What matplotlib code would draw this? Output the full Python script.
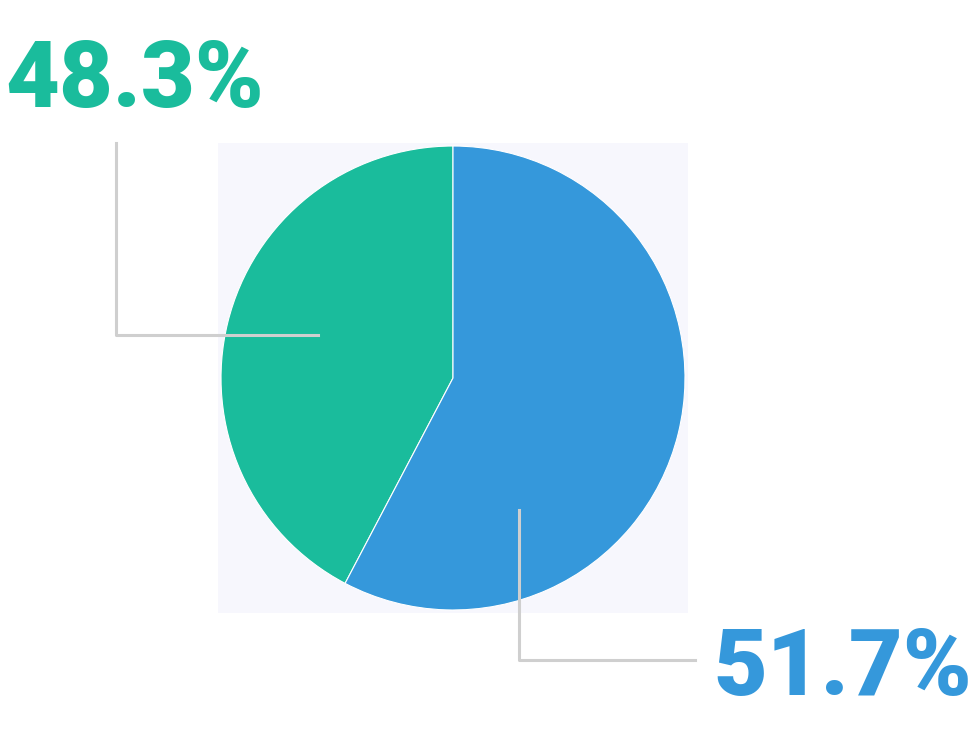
import matplotlib
matplotlib.use("Agg")
from matplotlib import pyplot as plt
from matplotlib import font_manager as fm

# slice sizes as drawn in the picture, labels as printed
segmentos = ["verde", "azul"]
tamanos = [42.3, 57.7]
etiquetas = ["48.3%", "51.7%"]
colores = ["#1ABC9C", "#3598DB"]

fuente = "Roboto"
nombres = {f.name for f in fm.fontManager.ttflist}
if fuente not in nombres:
    fuente = "DejaVu Sans"

fig = plt.figure(figsize=(9.76, 7.34), dpi=100)
ax = fig.add_axes([218 / 976, 121 / 734, 470 / 976, 470 / 734])
ax.pie(tamanos, colors=colores, startangle=90, counterclock=True,
       wedgeprops=dict(edgecolor="white", linewidth=0.8))
ax.set_frame_on(True)
ax.set_facecolor("#F7F7FD")
ax.set_xlim(-1.013, 1.013)
ax.set_ylim(-1.013, 1.013)
ax.set_aspect("auto")
for s in ax.spines.values():
    s.set_visible(False)
ax.set_xticks([])
ax.set_yticks([])

# leader lines
gris = "#CFCFCF"
ax.plot([-1.453, -1.453, -0.582], [1.013, 0.185, 0.185], color=gris, lw=2.2, clip_on=False)
ax.plot([0.284, 0.284, 1.043], [-0.569, -1.216, -1.216], color=gris, lw=2.2, clip_on=False)

fig.text(5 / 976, (734 - 107) / 734, etiquetas[0], color=colores[0], fontsize=67,
         fontweight="black", family=fuente, ha="left", va="baseline")
fig.text(972 / 976, (734 - 695) / 734, etiquetas[1], color=colores[1], fontsize=67,
         fontweight="black", family=fuente, ha="right", va="baseline")

fig.savefig("out.png", dpi=100, facecolor="white")
